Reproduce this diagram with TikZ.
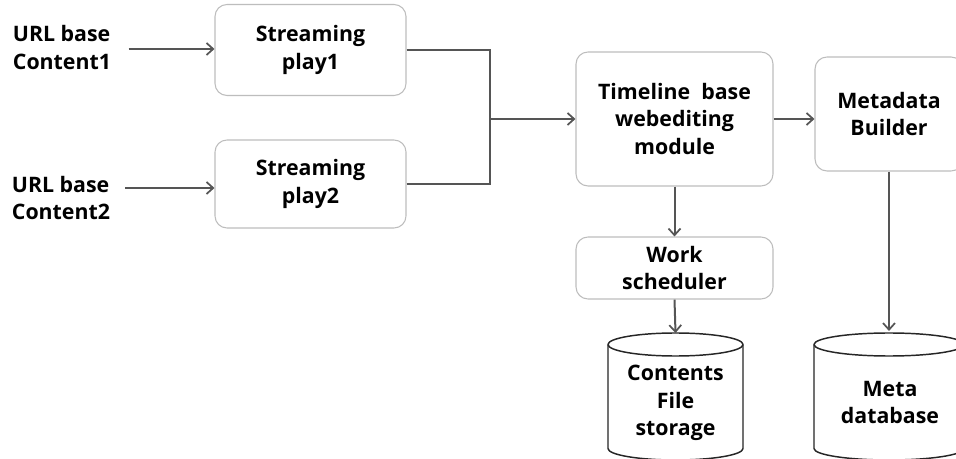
\documentclass[tikz,border=0pt]{standalone}
\usepackage{fontspec}
\setmainfont{Open Sans}
\usetikzlibrary{arrows.meta,calc}
\definecolor{boxline}{HTML}{BDBDBD}
\definecolor{arrline}{HTML}{555555}
\tikzset{
  lbl/.style={font=\bfseries\fontsize{16}{20.6}\selectfont, align=center, inner sep=0pt},
  rbox/.style={draw=boxline, line width=0.8pt, rounded corners=9pt, fill=white,
               lbl},
  arr/.style={draw=arrline, line width=1.5pt,
              -{Straight Barb[length=5pt,width=9pt,line width=1.3pt]}},
  wire/.style={draw=arrline, line width=1.5pt},
  cyl/.style={draw=black!85, line width=1.1pt, fill=white}
}
\begin{document}
\begin{tikzpicture}[x=0.75pt,y=-0.75pt]
\useasboundingbox (0,0) rectangle (956,459);
\clip (0,0) rectangle (956,459);
\fill[white] (0,0) rectangle (956,459);

% input labels
\node[lbl, align=left] (lab1) at (62,47.5) {URL base\\Content1};
\node[lbl, align=left] (lab2) at (61,198) {URL base\\Content2};

% processing boxes
\node[rbox, minimum width=143.25pt, minimum height=68.25pt] (sp1) at (310.5,50) {Streaming\\play1};
\node[rbox, minimum width=143.25pt, minimum height=66pt] (sp2) at (310.5,184) {Streaming\\play2};
\node[rbox, minimum width=147.75pt, minimum height=100.5pt] (tl) at (674.5,119) {Timeline\ \ base\\webediting\\module};
\node[rbox, minimum width=111pt, minimum height=85.5pt] (mb) at (889,114) {Metadata\\Builder};
\node[rbox, minimum width=147.75pt, minimum height=46.5pt] (ws) at (674.5,268) {Work\\scheduler};

% storage cylinders (centre of top ellipse, radii in pt)
\coordinate (cs) at (675.5,344.5);
\coordinate (md) at (889,344.5);
\path[cyl] ($(cs)+(-67.5,0)$) -- ($(cs)+(-67.5,104)$)
  arc[start angle=180,end angle=360,x radius=50.625pt,y radius=8.625pt]
  -- ($(cs)+(67.5,0)$)
  arc[start angle=0,end angle=180,x radius=50.625pt,y radius=8.625pt] -- cycle;
\draw[cyl, fill=none] ($(cs)+(-67.5,0)$)
  arc[start angle=180,end angle=360,x radius=50.625pt,y radius=8.625pt];
\path[cyl] ($(md)+(-75,0)$) -- ($(md)+(-75,104)$)
  arc[start angle=180,end angle=360,x radius=56.25pt,y radius=8.625pt]
  -- ($(md)+(75,0)$)
  arc[start angle=0,end angle=180,x radius=56.25pt,y radius=8.625pt] -- cycle;
\draw[cyl, fill=none] ($(md)+(-75,0)$)
  arc[start angle=180,end angle=360,x radius=56.25pt,y radius=8.625pt];
\coordinate (cstop) at (675.5,333);
\coordinate (mdtop) at (889,331);
\node[lbl] (cfs) at (675.5,403) {Contents\\File\\storage};
\node[lbl] (mdb) at (890,402.5) {Meta\\database};

% connectors
\draw[arr] ([xshift=13pt]lab1.east |- 0,49) -- (sp1.west |- 0,49);
\draw[arr] ([xshift=11pt]lab2.east |- 0,188) -- (sp2.west |- 0,188);
\coordinate (jn) at (490,119);
\draw[wire] (sp1.east) -| (jn);
\draw[wire] (sp2.east) -| (jn);
\draw[arr] (jn) -- (tl.west);
\draw[arr] (tl.east) -- (tl.east -| mb.west);
\draw[arr] (tl.south) -- (ws.north);
\draw[arr] (ws.south) -- (cstop);
\draw[arr] (mb.south) -- (mdtop);
\end{tikzpicture}
\end{document}
